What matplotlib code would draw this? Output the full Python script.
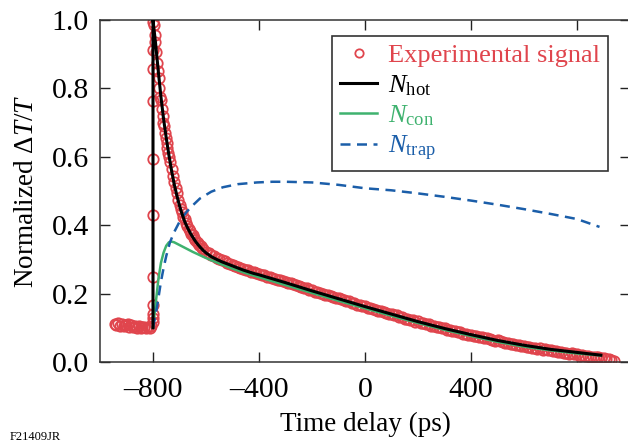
import matplotlib
matplotlib.use("Agg")
import matplotlib.pyplot as plt

plt.rcParams['font.family'] = ['Liberation Serif', 'DejaVu Serif']
plt.rcParams['mathtext.fontset'] = 'custom'
plt.rcParams['mathtext.rm'] = 'Liberation Serif'
plt.rcParams['mathtext.it'] = 'Liberation Serif:italic'

# ---------------- data ----------------
exp_t = [-945, -938, -931, -924, -917, -910, -903, -896, -889, -882, -875, -868, -861, -854,
         -847, -840, -833, -826, -819, -812, -806,
         -801, -800, -800, -800, -800, -800, -800, -799, -799, -800, -800,
         -797, -794, -791, -788, -785, -782, -779, -776, -773, -770, -767, -764, -761, -758,
         -755, -752, -749, -746, -743, -740, -735, -730, -725, -720, -715, -710, -705, -700,
         -695, -690, -685, -680, -675, -670, -665, -660, -655, -650, -645, -640, -635, -630,
         -625, -620, -615, -610, -600, -590, -580, -570, -560, -550, -540, -530, -520, -510,
         -500, -490, -480, -470, -460, -450, -440, -430, -420, -410,
         -400, -390, -380, -370, -360, -350, -340, -330, -320, -310, -300, -290, -280, -270,
         -260, -250, -240, -230, -220, -210, -200, -190, -180, -170, -160, -150, -140, -130,
         -120, -110, -100, -90, -80, -70, -60, -50, -40, -30, -20, -10, 0, 10, 20, 30, 40, 50,
         60, 70, 80, 90, 100, 110, 120, 130, 140, 150, 160, 170, 180, 190, 200, 210, 220, 230,
         240, 250, 260, 270, 280, 290, 300, 310, 320, 330, 340, 350, 360, 370, 380, 390, 400,
         410, 420, 430, 440, 450, 460, 470, 480, 490, 500, 510, 520, 530, 540, 550, 560, 570,
         580, 590, 600, 610, 620, 630, 640, 650, 660, 670, 680, 690, 700, 710, 720, 730, 740,
         750, 760, 770, 780, 790, 800, 810, 820, 830, 840, 850, 860, 870, 880, 890, 900, 910,
         920, 930, 940]
exp_y = [0.112, 0.108, 0.113, 0.106, 0.110, 0.104, 0.108, 0.111, 0.103, 0.107, 0.102, 0.106,
         0.100, 0.104, 0.099, 0.103, 0.101, 0.098, 0.102, 0.100, 0.104,
         0.117, 0.166, 0.250, 0.430, 0.595, 0.764, 0.857, 0.913, 0.994, 0.128, 0.140,
         0.985, 0.955, 0.935, 0.905, 0.875, 0.850, 0.830, 0.800, 0.775, 0.765, 0.740, 0.720,
         0.700, 0.690, 0.670, 0.655, 0.640, 0.625, 0.610, 0.600, 0.585, 0.565, 0.545, 0.525,
         0.510, 0.495, 0.475, 0.460, 0.448, 0.440, 0.425, 0.418, 0.405, 0.398, 0.390, 0.382,
         0.375, 0.370, 0.362, 0.357, 0.350, 0.347, 0.342, 0.338, 0.332, 0.330, 0.323, 0.318,
         0.312, 0.309, 0.305, 0.300, 0.297, 0.294, 0.290, 0.287, 0.284, 0.281, 0.278, 0.275,
         0.272, 0.269, 0.268, 0.264, 0.262, 0.259,
         0.258, 0.255, 0.254, 0.250, 0.249, 0.246, 0.244, 0.241, 0.240, 0.236, 0.235, 0.231,
         0.230, 0.227, 0.225, 0.221, 0.220, 0.216, 0.215, 0.211, 0.210, 0.206, 0.205, 0.201,
         0.200, 0.196, 0.195, 0.192, 0.190, 0.187, 0.187, 0.183, 0.181, 0.178, 0.177, 0.173,
         0.172, 0.168, 0.167, 0.163, 0.163, 0.159, 0.158, 0.154, 0.153, 0.150, 0.149, 0.145,
         0.144, 0.140, 0.141, 0.137, 0.136, 0.132, 0.131, 0.127, 0.127, 0.123, 0.122, 0.118,
         0.119, 0.115, 0.114, 0.110, 0.110, 0.106, 0.106, 0.102, 0.101, 0.098, 0.099, 0.095,
         0.095, 0.091, 0.091, 0.087, 0.087, 0.083, 0.083, 0.079, 0.080, 0.077, 0.076, 0.073,
         0.073, 0.069, 0.069, 0.066, 0.065, 0.062, 0.063, 0.060, 0.059, 0.056, 0.056, 0.053,
         0.053, 0.050, 0.050, 0.047, 0.048, 0.045, 0.045, 0.042, 0.042, 0.039, 0.040, 0.036,
         0.037, 0.034, 0.035, 0.032, 0.033, 0.029, 0.030, 0.027, 0.027, 0.024, 0.025, 0.022,
         0.022, 0.019, 0.020, 0.017, 0.018, 0.015, 0.016, 0.014, 0.015, 0.012, 0.012, 0.010,
         0.008, 0.006, 0.004]

hot_t = [-800, -800, -790, -780, -770, -760, -750, -740, -730, -720, -710, -700, -690, -680,
         -670, -660, -650, -640, -630, -620, -610, -600, -580, -560, -540, -520, -500, -480,
         -460, -440, -420, -400, -300, -200, -100, 0, 100, 200, 300, 400, 500, 600, 700, 800, 890]
hot_y = [0.100, 1.000, 0.930, 0.850, 0.775, 0.710, 0.655, 0.605, 0.560, 0.520, 0.487, 0.457,
         0.432, 0.410, 0.393, 0.378, 0.365, 0.353, 0.343, 0.334, 0.326, 0.319, 0.308, 0.300,
         0.293, 0.287, 0.281, 0.275, 0.269, 0.264, 0.259, 0.255, 0.232, 0.208, 0.185, 0.162,
         0.140, 0.118, 0.098, 0.080, 0.063, 0.049, 0.037, 0.028, 0.020]

con_t = [-800, -790, -780, -770, -760, -750, -740, -730, -720, -700, -650, -600, -550,
         -500, -450, -400, -300, -200, -100, 0, 100, 200, 300, 400, 500, 600, 700, 800, 890]
con_y = [0.100, 0.170, 0.240, 0.290, 0.320, 0.340, 0.350, 0.352, 0.350, 0.342, 0.322,
         0.304, 0.288, 0.273, 0.260, 0.248, 0.225, 0.202, 0.179, 0.157, 0.135, 0.114, 0.094,
         0.076, 0.059, 0.045, 0.034, 0.025, 0.019]

trap_t = [-800, -785, -770, -760, -750, -736, -720, -700, -687, -672, -650, -623, -580, -536,
          -480, -408, -350, -300, -200, -100, 0, 100, 200, 300, 400, 500, 600, 700, 800, 885]
trap_y = [0.100, 0.160, 0.235, 0.275, 0.310, 0.350, 0.380, 0.410, 0.425, 0.440, 0.458, 0.478,
          0.498, 0.511, 0.520, 0.525, 0.527, 0.527, 0.525, 0.518, 0.508, 0.502, 0.493, 0.483,
          0.472, 0.460, 0.447, 0.433, 0.418, 0.395]

x_ticks = [-800, -400, 0, 400, 800]
x_ticklabels = ['\u2013800', '\u2013400', '0', '400', '800']
y_ticks = [0.0, 0.2, 0.4, 0.6, 0.8, 1.0]

RED = '#e0454d'
GREEN = '#3fb26f'
BLUE = '#1b5ea9'

# ---------------- figure ----------------
fig = plt.figure(figsize=(6.28, 4.42), dpi=100)
ax = fig.add_axes([100 / 628, 80 / 442, 530 / 628, 342 / 442])

ax.plot(exp_t, exp_y, linestyle='none', marker='o', markersize=7.5, markerfacecolor='none',
        markeredgecolor=RED, markeredgewidth=1.3, label='Experimental signal', zorder=2)
ax.plot(hot_t, hot_y, color='black', linewidth=2.2, label=r'$N_{\mathrm{hot}}$', zorder=4)
ax.plot(con_t, con_y, color=GREEN, linewidth=1.8, label=r'$N_{\mathrm{con}}$', zorder=3)
ax.plot(trap_t, trap_y, color=BLUE, linewidth=1.8, linestyle=(0, (4, 2.6)),
        label=r'$N_{\mathrm{trap}}$', zorder=3)

ax.set_xlim(-1000, 1000)
ax.set_ylim(0.0, 1.0)
ax.set_xticks(x_ticks)
ax.set_xticklabels(x_ticklabels)
ax.set_yticks(y_ticks)
ax.set_yticklabels([f'{v:.1f}' for v in y_ticks])

ax.tick_params(direction='in', length=7, width=1.0, colors='#222222', labelcolor='black',
               labelsize=21.5, top=True, right=True, pad=8)
ax.tick_params(axis='x', pad=11)
for s in ax.spines.values():
    s.set_linewidth(1.1)
    s.set_color('#333333')

ax.set_xlabel('Time delay (ps)', fontsize=19.5, labelpad=6)
ax.set_ylabel(r'Normalized Δ$T$/$T$', fontsize=19.5, labelpad=9)

leg = ax.legend(loc='upper right', bbox_to_anchor=(0.958, 0.953), fontsize=19, frameon=True,
                fancybox=False, edgecolor='black', handlelength=1.4, handletextpad=0.4,
                borderpad=0.3, labelspacing=0.22, borderaxespad=0.0, markerscale=0.8)
leg.get_frame().set_linewidth(1.2)
for txt, col in zip(leg.get_texts(), [RED, 'black', GREEN, BLUE]):
    txt.set_color(col)

fig.text(0.016, 0.004, 'F21409JR', fontsize=9, ha='left', va='baseline')

fig.savefig('out.png', dpi=100)
